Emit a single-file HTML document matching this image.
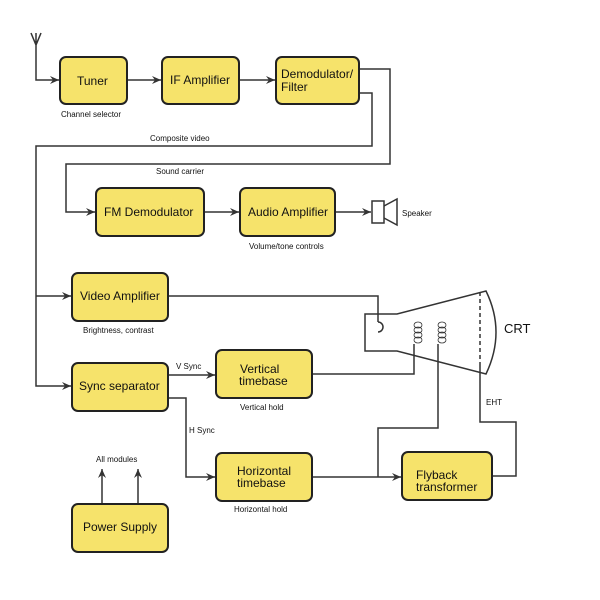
<!DOCTYPE html>
<html><head><style>body{margin:0;background:#fff}svg{display:block}text{font-family:"Liberation Sans",sans-serif;fill:#111}</style></head><body>
<svg width="600" height="600" viewBox="0 0 600 600">
<defs><marker id="a" markerWidth="10" markerHeight="8" refX="9" refY="4" orient="auto" markerUnits="userSpaceOnUse"><path d="M0,0 L9,4 L0,8 L3,4Z" fill="#333"/></marker></defs>
<g fill="none" stroke="#333" stroke-width="1.5">
<path d="M31,33 L36,45 L41,33 M36,33 V80 H59" marker-end="url(#a)"/>
<path d="M127,80 H161" marker-end="url(#a)"/>
<path d="M239,80 H275" marker-end="url(#a)"/>
<path d="M359,69 H390 V164 H66 V212 H95" marker-end="url(#a)"/>
<path d="M359,93 H372 V146 H36 V386 H71" marker-end="url(#a)"/>
<path d="M36,296 H71" marker-end="url(#a)"/>
<path d="M204,212 H239" marker-end="url(#a)"/>
<path d="M335,212 H371" marker-end="url(#a)"/>
<rect x="372" y="201" width="12" height="22"/>
<path d="M384,206 L397,199 V225 L384,218"/>
<path d="M168,296 H378 V322"/>
<path d="M378,322 A5,5 0 0 1 378,332"/>
<path d="M168,375 H215" marker-end="url(#a)"/>
<path d="M168,398 H186 V477 H215" marker-end="url(#a)"/>
<path d="M312,374 H414 V344"/>
<path d="M312,477 H401" marker-end="url(#a)"/>
<path d="M378,477 V428 H438 V344"/>
<path d="M492,476 H516 V422 H480 V364"/>
<path d="M480,292 V364" stroke-dasharray="4,3"/>
<path d="M102,504 V469" marker-end="url(#a)"/>
<path d="M138,504 V469" marker-end="url(#a)"/>
<path d="M397,314 H365 V351 H397 L486,374 Q506,332 486,291 Z"/>
</g>
<g fill="none" stroke="#333" stroke-width="0.8">
<ellipse cx="418" cy="325" rx="4" ry="3"/><ellipse cx="418" cy="330" rx="4" ry="3"/><ellipse cx="418" cy="335" rx="4" ry="3"/><ellipse cx="418" cy="340" rx="4" ry="3"/>
<ellipse cx="442" cy="325" rx="4" ry="3"/><ellipse cx="442" cy="330" rx="4" ry="3"/><ellipse cx="442" cy="335" rx="4" ry="3"/><ellipse cx="442" cy="340" rx="4" ry="3"/>
</g>
<g fill="#f6e36b" stroke="#222" stroke-width="2">
<rect x="60" y="57" width="67" height="47" rx="6"/>
<rect x="162" y="57" width="77" height="47" rx="6"/>
<rect x="276" y="57" width="83" height="47" rx="6"/>
<rect x="96" y="188" width="108" height="48" rx="6"/>
<rect x="240" y="188" width="95" height="48" rx="6"/>
<rect x="72" y="273" width="96" height="48" rx="6"/>
<rect x="72" y="363" width="96" height="48" rx="6"/>
<rect x="216" y="350" width="96" height="48" rx="6"/>
<rect x="216" y="453" width="96" height="48" rx="6"/>
<rect x="72" y="504" width="96" height="48" rx="6"/>
<rect x="402" y="452" width="90" height="48" rx="6"/>
</g>
<g font-size="12">
<text x="77" y="85">Tuner</text>
<text x="170" y="84">IF Amplifier</text>
<text x="281" y="78">Demodulator/</text><text x="281" y="91">Filter</text>
<text x="104" y="216">FM Demodulator</text>
<text x="248" y="216">Audio Amplifier</text>
<text x="80" y="300">Video Amplifier</text>
<text x="79" y="390">Sync separator</text>
<text x="240" y="373">Vertical</text><text x="239" y="385">timebase</text>
<text x="237" y="475">Horizontal</text><text x="237" y="487">timebase</text>
<text x="83" y="531">Power Supply</text>
<text x="416" y="479">Flyback</text><text x="416" y="491">transformer</text>
<text x="504" y="333" font-size="13">CRT</text>
</g>
<g font-size="8">
<text x="61" y="117">Channel selector</text>
<text x="150" y="141">Composite video</text>
<text x="156" y="174">Sound carrier</text>
<text x="402" y="216">Speaker</text>
<text x="249" y="249">Volume/tone controls</text>
<text x="83" y="333">Brightness, contrast</text>
<text x="176" y="369">V Sync</text>
<text x="240" y="410">Vertical hold</text>
<text x="189" y="433">H Sync</text>
<text x="96" y="462">All modules</text>
<text x="234" y="512">Horizontal hold</text>
<text x="486" y="405">EHT</text>
</g>
</svg>
</body></html>
